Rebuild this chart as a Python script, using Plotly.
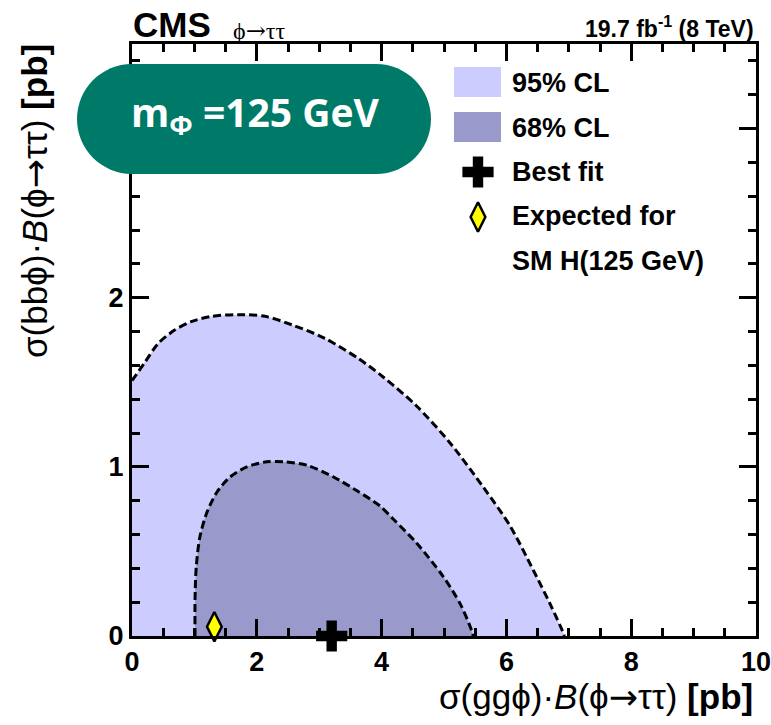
import plotly.graph_objects as go

# ---- data ----
gg_95 = [0.0, 0.04, 0.21, 0.42, 0.69, 0.96, 1.28, 1.70, 2.13, 2.56, 3.09, 3.63, 4.03, 4.56, 5.10, 5.63, 6.06, 6.43, 6.70, 6.91, 6.93]
bb_95 = [1.51, 1.53, 1.62, 1.73, 1.81, 1.86, 1.89, 1.90, 1.89, 1.84, 1.76, 1.64, 1.53, 1.36, 1.14, 0.88, 0.65, 0.39, 0.19, 0.02, 0.0]

gg_68 = [1.01, 1.01, 1.01, 1.03, 1.09, 1.20, 1.36, 1.57, 1.84, 2.16, 2.43, 2.80, 3.23, 3.60, 3.97, 4.19, 4.56, 4.99, 5.26, 5.42, 5.47]
bb_68 = [0.0, 0.02, 0.21, 0.41, 0.59, 0.73, 0.85, 0.94, 1.00, 1.03, 1.03, 1.01, 0.94, 0.86, 0.77, 0.69, 0.55, 0.35, 0.19, 0.055, 0.0]

best_fit_gg = [3.2]
best_fit_bb = [0.0]
sm_gg = [1.32]
sm_bb = [0.055]

x_ticks = [0, 2, 4, 6, 8, 10]
y_ticks = [0, 1, 2, 3]
y_ticktext = ["0", "1", "2", "3"]

legend_labels = ["95% CL", "68% CL", "Best fit", "Expected for", "SM H(125 GeV)"]

# ---- layout geometry (pixels) ----
W, H = 771, 725
L, R, T, B = 132, 756, 44, 636


def fx(p):
    return (p - L) / (R - L)


def fy(p):
    return (B - p) / (B - T)


FONT = "Liberation Sans"
DASH = "8px,4px"
ARROW = '<span style="font-family:DejaVu Sans">→</span>'

fig = go.Figure()

fig.add_trace(go.Scatter(
    x=gg_95, y=bb_95, mode="lines", fill="tozeroy", fillcolor="#ccccff",
    line=dict(color="black", width=3, dash=DASH, shape="spline", smoothing=0.8),
    hoverinfo="skip", showlegend=False))

fig.add_trace(go.Scatter(
    x=gg_68, y=bb_68, mode="lines", fill="toself", fillcolor="#9999cc",
    line=dict(color="black", width=3, dash=DASH, shape="spline", smoothing=0.8),
    hoverinfo="skip", showlegend=False))

cross_marker = dict(symbol="cross", size=26, color="black", line=dict(width=0))
diamond_marker = dict(symbol="diamond-tall", size=21, color="#ffff00", line=dict(color="black", width=2.5))

fig.add_trace(go.Scatter(x=best_fit_gg, y=best_fit_bb, mode="markers", marker=cross_marker,
                         cliponaxis=False, showlegend=False))
fig.add_trace(go.Scatter(x=sm_gg, y=sm_bb, mode="markers", marker=diamond_marker,
                         cliponaxis=False, showlegend=False))

# legend symbols on an overlay axis spanning the plot area as [0,1]
fig.add_trace(go.Scatter(x=[fx(478)], y=[fy(172)], xaxis="x2", yaxis="y2", mode="markers",
                         marker=cross_marker, cliponaxis=False, showlegend=False))
fig.add_trace(go.Scatter(x=[fx(478)], y=[fy(217)], xaxis="x2", yaxis="y2", mode="markers",
                         marker=diamond_marker, cliponaxis=False, showlegend=False))

axis_common = dict(
    showline=True, linecolor="black", linewidth=3, mirror="allticks",
    ticks="inside", ticklen=17, tickwidth=2.5, tickcolor="black",
    showgrid=False, zeroline=False, ticklabeloverflow="allow", automargin=False,
    tickfont=dict(family=FONT, size=27, color="black", weight="bold"),
)

fig.update_layout(
    width=W, height=H, autosize=False,
    margin=dict(l=L, r=W - R, t=T, b=H - B, pad=0, autoexpand=False),
    paper_bgcolor="white", plot_bgcolor="white",
    xaxis=dict(range=[0, 10], tickvals=x_ticks, **axis_common,
               minor=dict(dtick=0.5, tick0=0, ticks="inside", ticklen=8, tickwidth=2.5,
                          tickcolor="black", showgrid=False)),
    yaxis=dict(range=[0, 3.5], tickvals=y_ticks, ticktext=y_ticktext, **axis_common,
               minor=dict(dtick=0.2, tick0=0, ticks="inside", ticklen=8, tickwidth=2.5,
                          tickcolor="black", showgrid=False)),
    xaxis2=dict(overlaying="x", range=[0, 1], visible=False, automargin=False),
    yaxis2=dict(overlaying="y", range=[0, 1], visible=False, automargin=False),
    showlegend=False,
)

# ---- shapes: legend boxes and green pill ----
shapes = [
    dict(type="rect", xref="paper", yref="paper", x0=fx(454), x1=fx(501), y0=fy(97), y1=fy(67),
         fillcolor="#ccccff", line=dict(width=0), layer="above"),
    dict(type="rect", xref="paper", yref="paper", x0=fx(454), x1=fx(501), y0=fy(142), y1=fy(112),
         fillcolor="#9999cc", line=dict(width=0), layer="above"),
]

bx0, bx1, by0, by1 = 77, 431, 64, 174
r = (by1 - by0) / 2
k = 0.5523 * r
cy = (by0 + by1) / 2


def P(x, y):
    return f"{fx(x):.5f},{fy(y):.5f}"


path = (
    f"M{P(bx0 + r, by0)} L{P(bx1 - r, by0)} "
    f"C{P(bx1 - r + k, by0)} {P(bx1, cy - k)} {P(bx1, cy)} "
    f"C{P(bx1, cy + k)} {P(bx1 - r + k, by1)} {P(bx1 - r, by1)} "
    f"L{P(bx0 + r, by1)} "
    f"C{P(bx0 + r - k, by1)} {P(bx0, cy + k)} {P(bx0, cy)} "
    f"C{P(bx0, cy - k)} {P(bx0 + r - k, by0)} {P(bx0 + r, by0)} Z"
)
shapes.append(dict(type="path", xref="paper", yref="paper", path=path,
                   fillcolor="#007a68", line=dict(width=0), layer="above"))
fig.update_layout(shapes=shapes)

# ---- annotations ----
ann = []
ann.append(dict(text="<b>CMS</b>", x=fx(131), y=fy(24), xanchor="left", yanchor="middle",
                font=dict(family=FONT, size=35, color="black")))
ann.append(dict(text="ϕ" + '<span style="font-family:DejaVu Serif">→</span>' + "ττ",
                x=fx(231), y=fy(31), xanchor="left", yanchor="middle",
                font=dict(family="Liberation Serif", size=24, color="black")))
ann.append(dict(text="<b>19.7 fb<sup>-1</sup> (8 TeV)</b>", x=fx(756), y=fy(27), xanchor="right",
                yanchor="middle", font=dict(family=FONT, size=23, color="black")))
ann.append(dict(text="<b>m<sub>Φ</sub> =125 GeV</b>", x=fx(255), y=fy(114), xanchor="center",
                yanchor="middle", font=dict(family="Open Sans", size=39, color="white")))

leg_y = [83, 128, 172, 216, 261]
for lab, yy in zip(legend_labels, leg_y):
    ann.append(dict(text=f"<b>{lab}</b>", x=fx(510), y=fy(yy), xanchor="left", yanchor="middle",
                    font=dict(family=FONT, size=27, color="black")))

ann.append(dict(text="σ(ggϕ)·<i>B</i>(ϕ" + ARROW + "ττ) <b>[pb]</b>", x=fx(755), y=fy(697),
                xanchor="right", yanchor="middle",
                font=dict(family=FONT, size=35, color="black")))
ann.append(dict(text="σ(bbϕ)·<i>B</i>(ϕ" + ARROW + "ττ) <b>[pb]</b>", x=fx(35), y=fy(42), textangle=-90,
                xanchor="center", yanchor="top",
                font=dict(family=FONT, size=35, color="black")))

for a in ann:
    a.update(xref="paper", yref="paper", showarrow=False)
fig.update_layout(annotations=ann)

fig.write_html("out.html", config={"displayModeBar": False},
               post_script="document.body.style.margin='0px';")
